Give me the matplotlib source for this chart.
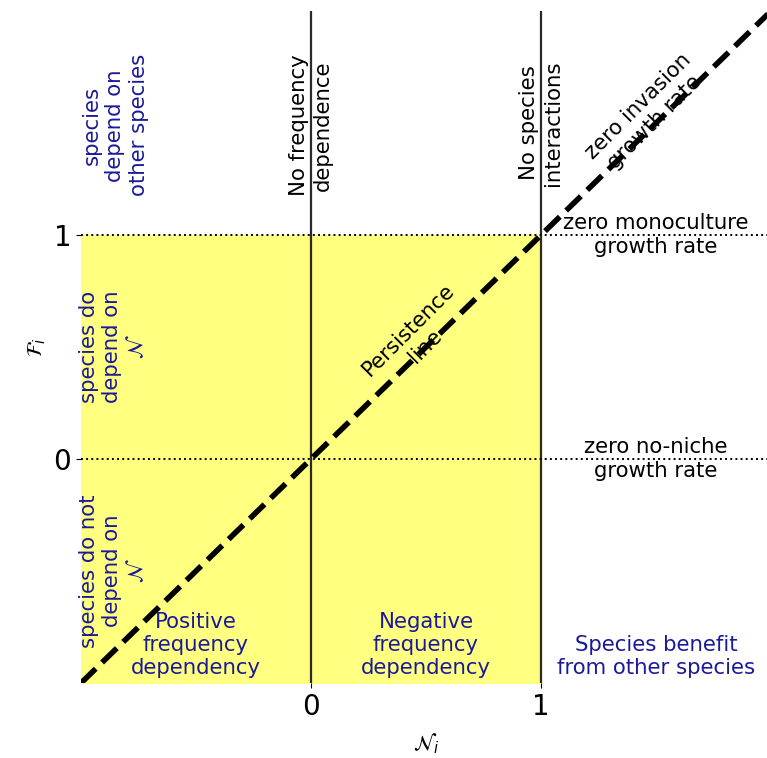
import numpy as np
import matplotlib
matplotlib.use("Agg")
import matplotlib.pyplot as plt

# region limits (data units)
x_lim = [-1, 2]
y_lim = [-1, 2]
persist_x = [-1, 2]
persist_y = [-1, 2]
vlines_x = [0, 1]
hlines_y = [0, 1]
fill_x = [-1, 1]
fill_y = [-1, 1]
ticks = [0, 1]

blue = "#1a1a99"

fig = plt.figure(figsize=(7.67, 7.58), dpi=100)
ax = fig.add_axes([0.1056, 0.0989, 0.8996, 0.8865])

ax.fill_between(fill_x, fill_y[0], fill_y[1], color="#ffff80", zorder=0)
for xv in vlines_x:
    ax.plot([xv, xv], y_lim, color="#2a2a2a", lw=1.6, zorder=2)
for yv in hlines_y:
    ax.plot(x_lim, [yv, yv], color="k", ls=":", lw=1.4, zorder=2)
ax.plot(persist_x, persist_y, "k--", lw=4, zorder=3)

fs = 15.3
ax.text(-0.85, 1.49, "species\ndepend on\nother species", rotation=90,
        ha="center", va="center", color=blue, fontsize=fs)
ax.text(0, 1.49, "No frequency\ndependence", rotation=90,
        ha="center", va="center", color="k", fontsize=fs)
ax.text(1, 1.5, "No species\ninteractions", rotation=90,
        ha="center", va="center", color="k", fontsize=fs)
ax.text(1.46, 1.54, "zero invasion\ngrowth rate", rotation=45,
        ha="center", va="center", color="k", fontsize=fs, rotation_mode="anchor")
ax.text(0.46, 0.54, "Persistence\nline", rotation=45,
        ha="center", va="center", color="k", fontsize=fs, rotation_mode="anchor")
ax.text(1.5, 1, "zero monoculture\ngrowth rate",
        ha="center", va="center", color="k", fontsize=fs)
ax.text(1.5, 0, "zero no-niche\ngrowth rate",
        ha="center", va="center", color="k", fontsize=fs)
ax.text(-0.86, 0.5, "species do\ndepend on\n$\\mathcal{N}$", rotation=90,
        ha="center", va="center", color=blue, fontsize=fs)
ax.text(-0.86, -0.5, "species do not\ndepend on\n$\\mathcal{N}$", rotation=90,
        ha="center", va="center", color=blue, fontsize=fs)
ax.text(-0.5, -0.83, "Positive\nfrequency\ndependency",
        ha="center", va="center", color=blue, fontsize=fs)
ax.text(0.5, -0.83, "Negative\nfrequency\ndependency",
        ha="center", va="center", color=blue, fontsize=fs)
ax.text(1.5, -0.88, "Species benefit\nfrom other species",
        ha="center", va="center", color=blue, fontsize=fs)

ax.set_xlim(x_lim)
ax.set_ylim(y_lim)
ax.set_xticks(ticks)
ax.set_yticks(ticks)
ax.tick_params(labelsize=20)
for s in ax.spines.values():
    s.set_visible(False)
ax.set_xlabel("$\\mathcal{N}_i$", fontsize=15, labelpad=8)
ax.set_ylabel("$\\mathcal{F}_i$", fontsize=15)

fig.savefig("out.png", dpi=100)
